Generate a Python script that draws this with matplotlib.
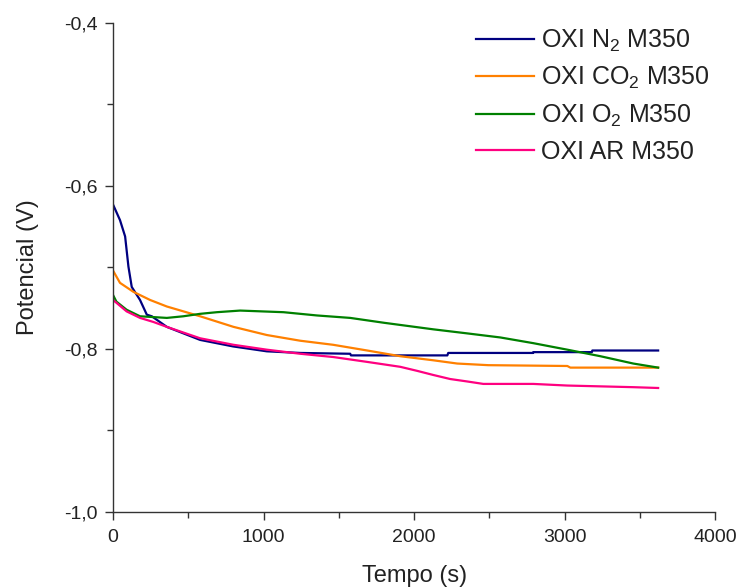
import matplotlib
matplotlib.use('Agg')
import matplotlib.pyplot as plt
from matplotlib.ticker import MultipleLocator, FixedLocator, FixedFormatter

plt.rcParams['font.family'] = ['Liberation Sans', 'DejaVu Sans']
plt.rcParams['mathtext.fontset'] = 'custom'
plt.rcParams['mathtext.rm'] = 'Liberation Sans'
plt.rcParams['mathtext.it'] = 'Liberation Sans'

# OXI N2 M350
t_n2 = [0, 46, 80, 102, 124, 179, 224, 257, 357, 578, 797, 1021, 1243, 1575, 1580, 2220, 2226, 2790, 2791, 3180, 3183, 3620]
v_n2 = [-0.623, -0.642, -0.662, -0.699, -0.724, -0.740, -0.758, -0.760, -0.773, -0.789, -0.797, -0.803, -0.805, -0.806,
        -0.808, -0.808, -0.805, -0.805, -0.804, -0.804, -0.802, -0.802]

# OXI CO2 M350
t_co2 = [0, 46, 135, 246, 357, 578, 800, 1021, 1243, 1462, 1688, 1907, 2126, 2286, 2492, 3017, 3037, 3620]
v_co2 = [-0.704, -0.719, -0.730, -0.740, -0.748, -0.760, -0.773, -0.783, -0.790, -0.795, -0.802, -0.809, -0.814,
         -0.818, -0.820, -0.821, -0.823, -0.823]

# OXI O2 M350
t_o2 = [0, 22, 90, 179, 357, 467, 578, 689, 844, 1132, 1354, 1575, 1800, 2126, 2352, 2572, 2791, 3017, 3236, 3455, 3620]
v_o2 = [-0.734, -0.742, -0.752, -0.760, -0.762, -0.760, -0.757, -0.755, -0.753, -0.755, -0.759, -0.762, -0.768,
        -0.776, -0.781, -0.786, -0.793, -0.801, -0.809, -0.818, -0.823]

# OXI AR M350
t_ar = [0, 90, 179, 268, 357, 578, 800, 1021, 1243, 1462, 1688, 1907, 2020, 2126, 2239, 2352, 2459, 2791, 3017, 3455, 3620]
v_ar = [-0.740, -0.754, -0.762, -0.767, -0.773, -0.787, -0.795, -0.801, -0.806, -0.810, -0.816, -0.822, -0.827,
        -0.832, -0.837, -0.840, -0.843, -0.843, -0.845, -0.847, -0.848]

series = [
    (t_n2, v_n2, 'OXI N$_2$ M350', '#000080'),
    (t_co2, v_co2, 'OXI CO$_2$ M350', '#FF8000'),
    (t_o2, v_o2, 'OXI O$_2$ M350', '#008000'),
    (t_ar, v_ar, 'OXI AR M350', '#FF0080'),
]

y_ticks = [-1.0, -0.8, -0.6, -0.4]
y_tick_labels = ['-1,0', '-0,8', '-0,6', '-0,4']

fig = plt.figure(figsize=(7.39, 5.87), dpi=100)
ax = fig.add_axes([0.153, 0.128, 0.815, 0.833])

for t, v, lab, col in series:
    ax.plot(t, v, color=col, lw=1.6, label=lab)

ax.set_xlim(0, 4000)
ax.set_ylim(-1.0, -0.4)
ax.xaxis.set_major_locator(MultipleLocator(1000))
ax.xaxis.set_minor_locator(MultipleLocator(500))
ax.yaxis.set_major_locator(FixedLocator(y_ticks))
ax.yaxis.set_major_formatter(FixedFormatter(y_tick_labels))
ax.yaxis.set_minor_locator(MultipleLocator(0.1))

for s in ['top', 'right']:
    ax.spines[s].set_visible(False)
for s in ['left', 'bottom']:
    ax.spines[s].set_color('#333333')
    ax.spines[s].set_linewidth(1.0)

ax.tick_params(which='both', direction='out', color='#333333', width=1.0, labelsize=14, labelcolor='#222222')
ax.tick_params(which='major', length=6)
ax.tick_params(which='minor', length=4)
ax.tick_params(axis='x', which='major', pad=6)
ax.tick_params(axis='y', which='major', pad=5)

ax.set_xlabel('Tempo (s)', fontsize=17, color='#222222', labelpad=14)
ax.set_ylabel('Potencial (V)', fontsize=17, color='#222222', labelpad=18)

leg = ax.legend(loc='upper left', bbox_to_anchor=(0.603, 0.99), frameon=False, fontsize=18,
                handlelength=2.3, handletextpad=0.3, labelspacing=0.45, borderpad=0, borderaxespad=0)
for txt in leg.get_texts():
    txt.set_color('#222222')

fig.savefig('out.png', dpi=100)
